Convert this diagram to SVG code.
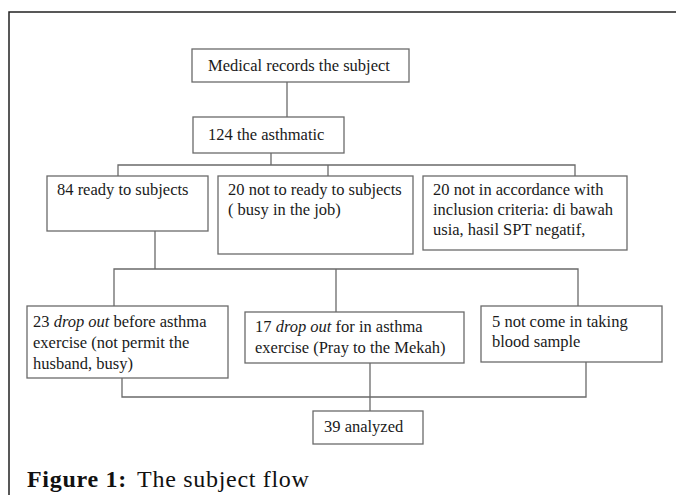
<svg xmlns="http://www.w3.org/2000/svg" width="676" height="495" viewBox="0 0 676 495">
<style>
.bg{fill:#fff}
.frame{stroke:#222;stroke-width:1.5;fill:none}
.box{fill:#fff;stroke:#6a6a6a;stroke-width:1.3}
.ln{stroke:#6a6a6a;stroke-width:1.3;fill:none}
.t{font-family:"Liberation Serif","Times New Roman",serif;font-size:16.5px;fill:#1a1a1a}
.cap{font-family:"Liberation Serif","Times New Roman",serif;font-size:24px;fill:#111;letter-spacing:0.7px}
</style>
<rect class="bg" x="0" y="0" width="676" height="495"/>
<path class="frame" d="M9,495 V12 H676"/>
<g id="connectors">
<path class="ln" d="M287,82 V117"/>
<path class="ln" d="M271,153 V165 M118,176 V165 H575 V176 M328,165 V176"/>
<path class="ln" d="M155,231 V269 M114,306 V269 H578 V306 M336,269 V312"/>
<path class="ln" d="M122,378 V397 H586 V362 M370,363 V411"/>
</g>
<g id="n-medical"><rect class="box" x="192" y="49" width="217" height="33"/><text class="t" x="208" y="71">Medical records the subject</text></g>
<g id="n-124"><rect class="box" x="193" y="117" width="151" height="36"/><text class="t" x="208" y="140">124 the asthmatic</text></g>
<g id="n-84"><rect class="box" x="47" y="176" width="161" height="55"/><text class="t" x="57" y="195">84 ready to subjects</text></g>
<g id="n-20a"><rect class="box" x="218" y="176" width="195" height="78"/><text class="t" x="228" y="195">20 not to ready to subjects</text><text class="t" x="228" y="215">( busy in the job)</text></g>
<g id="n-20b"><rect class="box" x="423" y="176" width="204" height="74"/><text class="t" x="433" y="195">20 not in accordance with</text><text class="t" x="433" y="215">inclusion criteria: di bawah</text><text class="t" x="433" y="235">usia, hasil SPT negatif,</text></g>
<g id="n-23"><rect class="box" x="27" y="306" width="201" height="72"/><text class="t" x="33" y="327">23 <tspan font-style="italic">drop out</tspan> before asthma</text><text class="t" x="33" y="348">exercise (not permit the</text><text class="t" x="33" y="369">husband, busy)</text></g>
<g id="n-17"><rect class="box" x="245" y="312" width="219" height="51"/><text class="t" x="255" y="332">17 <tspan font-style="italic">drop out</tspan> for in asthma</text><text class="t" x="255" y="353">exercise (Pray to the Mekah)</text></g>
<g id="n-5"><rect class="box" x="481" y="306" width="181" height="56"/><text class="t" x="492" y="327">5 not come in taking</text><text class="t" x="492" y="347">blood sample</text></g>
<g id="n-39"><rect class="box" x="313" y="411" width="110" height="33"/><text class="t" x="324" y="432">39 analyzed</text></g>
<text class="cap" x="27" y="487"><tspan font-weight="bold">Figure 1:</tspan><tspan dx="4"> The subject flow</tspan></text>
</svg>
